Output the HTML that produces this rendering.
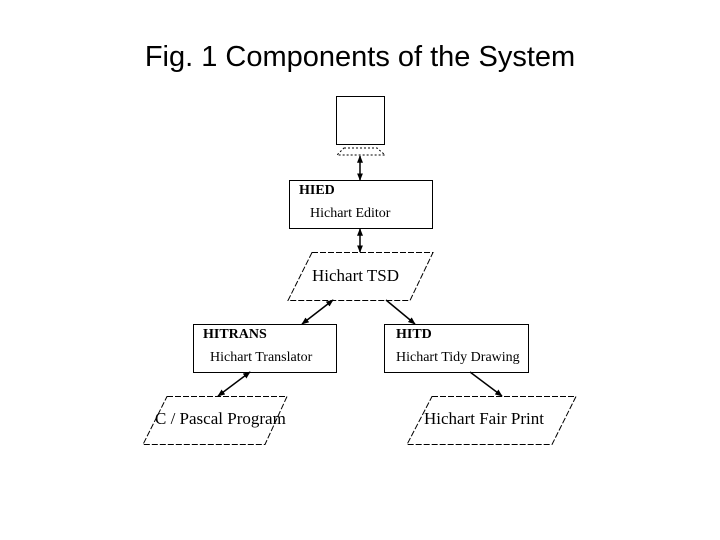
<!DOCTYPE html>
<html><head><style>
html,body{margin:0;padding:0;background:#fff;width:720px;height:540px;overflow:hidden}
svg{display:block}
</style></head><body>
<svg width="720" height="540" viewBox="0 0 720 540" xmlns="http://www.w3.org/2000/svg">
<defs>
<marker id="a" viewBox="0 0 10 10" refX="9" refY="5" markerWidth="5" markerHeight="5" orient="auto-start-reverse"><path d="M0,1 L10,5 L0,9 z" fill="#000"/></marker>
</defs>
<text x="360" y="66" text-anchor="middle" font-family="Liberation Sans, sans-serif" font-size="29" fill="#000">Fig. 1 Components of the System</text>
<g fill="none" stroke="#000" stroke-width="1">
<rect x="336.5" y="96.5" width="48" height="48"/>
<path d="M344,148 L377,148 L385,155 L337,155 Z" stroke-dasharray="2,2"/>
<rect x="289.5" y="180.5" width="143" height="48"/>
<path d="M312,252.5 L433,252.5 L410,300.5 L288,300.5 Z" stroke-dasharray="6,2"/>
<rect x="193.5" y="324.5" width="143" height="48"/>
<rect x="384.5" y="324.5" width="144" height="48"/>
<path d="M167,396.5 L287,396.5 L265,444.5 L143,444.5 Z" stroke-dasharray="6,2"/>
<path d="M432,396.5 L576,396.5 L552,444.5 L407,444.5 Z" stroke-dasharray="6,2"/>
<g stroke-width="1.5">
<line x1="360" y1="156" x2="360" y2="180" marker-start="url(#a)" marker-end="url(#a)"/>
<line x1="360" y1="229" x2="360" y2="252" marker-start="url(#a)" marker-end="url(#a)"/>
<line x1="333" y1="300" x2="302" y2="324" marker-start="url(#a)" marker-end="url(#a)"/>
<line x1="386" y1="300" x2="415" y2="324" marker-end="url(#a)"/>
<line x1="250" y1="372" x2="218" y2="396" marker-start="url(#a)" marker-end="url(#a)"/>
<line x1="470" y1="372" x2="502" y2="396" marker-end="url(#a)"/>
</g>
</g>
<g font-family="Liberation Serif, serif" fill="#000">
<text x="299" y="194" font-size="14" font-weight="bold">HIED</text>
<text x="310" y="217" font-size="14">Hichart  Editor</text>
<text x="312" y="281" font-size="17">Hichart  TSD</text>
<text x="203" y="338" font-size="14" font-weight="bold">HITRANS</text>
<text x="210" y="361" font-size="14">Hichart  Translator</text>
<text x="396" y="338" font-size="14" font-weight="bold">HITD</text>
<text x="396" y="361" font-size="14">Hichart Tidy Drawing</text>
<text x="155" y="424" font-size="17">C / Pascal  Program</text>
<text x="424" y="424" font-size="17">Hichart  Fair  Print</text>
</g>
</svg>
</body></html>
